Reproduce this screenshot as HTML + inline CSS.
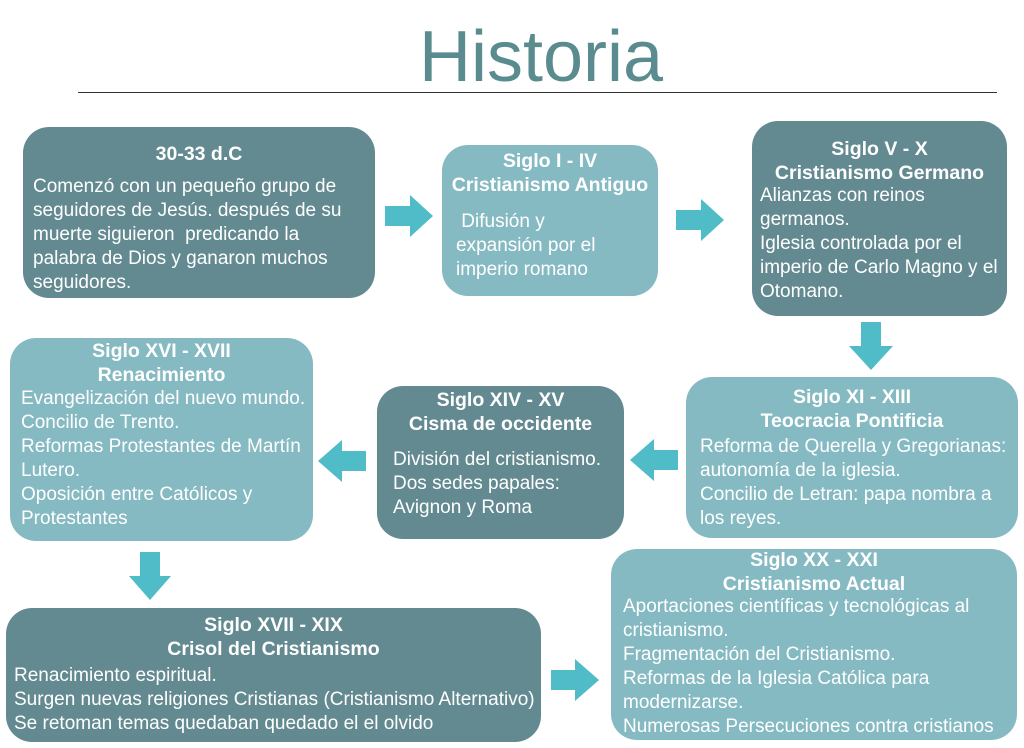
<!DOCTYPE html>
<html><head><meta charset="utf-8"><style>
body{margin:0;width:1024px;height:748px;background:#fff;position:relative;overflow:hidden;font-family:"Liberation Sans",sans-serif}
.b{position:absolute;border-radius:26px}
.d{background:#638a91}.l{background:#86bac3}
.t{position:absolute;color:#fff;font-size:19px;line-height:24px;white-space:nowrap}
.h{font-weight:bold;font-size:19.5px;text-align:center}
svg{position:absolute}
</style></head><body>
<div style="position:absolute;left:0;width:1082px;top:14px;text-align:center;font-size:72px;color:#5a8c8f;font-weight:300;line-height:86px">Historia</div>
<div style="position:absolute;left:78px;top:92px;width:919px;height:1px;background:#333"></div>

<div class="b d" style="left:23px;top:127px;width:352px;height:171px"></div>
<div class="t h" style="left:23px;width:352px;top:142px">30-33 d.C</div>
<div class="t" style="left:33px;top:175px">Comenzó con un pequeño grupo de<br>seguidores de Jesús. después de su<br>muerte siguieron&nbsp; predicando la<br>palabra de Dios y ganaron muchos<br>seguidores.</div>

<div class="b l" style="left:442px;top:145px;width:216px;height:151px"></div>
<div class="t h" style="left:442px;width:216px;top:149px">Siglo I - IV<br>Cristianismo Antiguo</div>
<div class="t" style="left:456px;top:210px">&nbsp;Difusión y<br>expansión por el<br>imperio romano</div>

<div class="b d" style="left:752px;top:121px;width:255px;height:195px"></div>
<div class="t h" style="left:752px;width:255px;top:137px">Siglo V - X<br>Cristianismo Germano</div>
<div class="t" style="left:760px;top:184px">Alianzas con reinos<br>germanos.<br>Iglesia controlada por el<br>imperio de Carlo Magno y el<br>Otomano.</div>

<div class="b l" style="left:10px;top:338px;width:303px;height:203px"></div>
<div class="t h" style="left:10px;width:303px;top:339px">Siglo XVI - XVII<br>Renacimiento</div>
<div class="t" style="left:21px;top:387px">Evangelización del nuevo mundo.<br>Concilio de Trento.<br>Reformas Protestantes de Martín<br>Lutero.<br>Oposición entre Católicos y<br>Protestantes</div>

<div class="b d" style="left:377px;top:386px;width:247px;height:153px"></div>
<div class="t h" style="left:377px;width:247px;top:388px">Siglo XIV - XV<br>Cisma de occidente</div>
<div class="t" style="left:393px;top:448px">División del cristianismo.<br>Dos sedes papales:<br>Avignon y Roma</div>

<div class="b l" style="left:686px;top:377px;width:332px;height:161px"></div>
<div class="t h" style="left:686px;width:332px;top:385px">Siglo XI - XIII<br>Teocracia Pontificia</div>
<div class="t" style="left:700px;top:435px">Reforma de Querella y Gregorianas:<br>autonomía de la iglesia.<br>Concilio de Letran: papa nombra a<br>los reyes.</div>

<div class="b d" style="left:6px;top:608px;width:535px;height:134px"></div>
<div class="t h" style="left:6px;width:535px;top:613px">Siglo XVII - XIX<br>Crisol del Cristianismo</div>
<div class="t" style="left:14px;top:664px">Renacimiento espiritual.<br>Surgen nuevas religiones Cristianas (Cristianismo Alternativo)<br>Se retoman temas quedaban quedado el el olvido</div>

<div class="b l" style="left:611px;top:549px;width:406px;height:191px"></div>
<div class="t h" style="left:611px;width:406px;top:548px">Siglo XX - XXI<br>Cristianismo Actual</div>
<div class="t" style="left:623px;top:595px">Aportaciones científicas y tecnológicas al<br>cristianismo.<br>Fragmentación del Cristianismo.<br>Reformas de la Iglesia Católica para<br>modernizarse.<br>Numerosas Persecuciones contra cristianos</div>

<svg width="1024" height="748" style="left:0;top:0">
<g fill="#4fbcc7">
<polygon points="385,206 410,206 410,195 433,216 410,237 410,226 385,226"/>
<polygon points="676,210 701,210 701,199 724,220 701,241 701,230 676,230"/>
<polygon points="861,322 881,322 881,346 893,346 871,370 849,346 861,346"/>
<polygon points="366,451 342,451 342,440 318,461 342,482 342,471 366,471"/>
<polygon points="678,450 654,450 654,439 630,460 654,481 654,470 678,470"/>
<polygon points="140,552 160,552 160,576 171,576 150,600 129,576 140,576"/>
<polygon points="551,670 575,670 575,659 599,680 575,701 575,690 551,690"/>
</g></svg>
</body></html>
